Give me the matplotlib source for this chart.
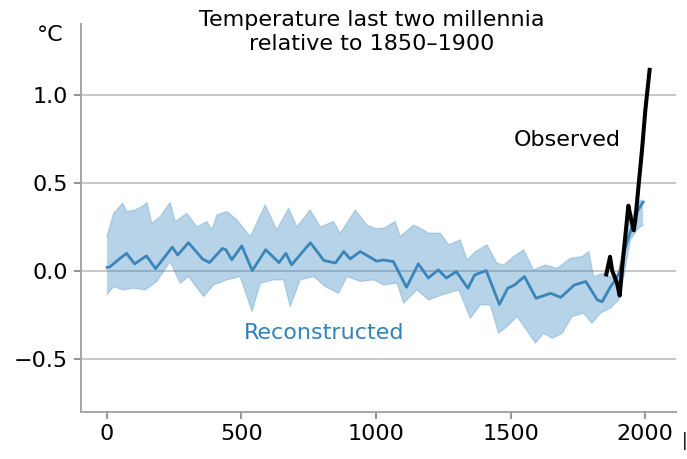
import matplotlib
matplotlib.use("Agg")
import matplotlib.pyplot as plt

# ---- data ----
rec_years = [1, 11, 40, 73, 103, 147, 181, 243, 263, 303, 355, 381, 429, 442, 464, 501,
             540, 590, 639, 665, 686, 756, 806, 849, 880, 904, 941, 975, 1002, 1027, 1064,
             1113, 1157, 1194, 1231, 1261, 1298, 1341, 1366, 1409, 1458, 1489, 1514, 1551,
             1594, 1649, 1686, 1736, 1779, 1822, 1840, 1871, 1890, 1905, 1920, 1940, 1957,
             1975, 1992]
rec_vals = [0.02, 0.023, 0.06, 0.10, 0.04, 0.085, 0.013, 0.135, 0.09, 0.16, 0.068, 0.047,
            0.127, 0.12, 0.063, 0.142, 0.002, 0.12, 0.047, 0.10, 0.034, 0.16, 0.059, 0.045,
            0.11, 0.068, 0.11, 0.08, 0.055, 0.062, 0.053, -0.093, 0.04, -0.04, 0.006, -0.04,
            -0.004, -0.098, -0.023, 0.002, -0.19, -0.098, -0.08, -0.032, -0.155, -0.127,
            -0.15, -0.08, -0.06, -0.165, -0.174, -0.089, -0.05, 0.0, 0.1, 0.2, 0.28, 0.35,
            0.39]

up_years = [0, 25, 59, 74, 105, 130, 149, 167, 198, 235, 254, 297, 334, 372, 390, 409, 446,
            483, 533, 588, 631, 675, 706, 755, 793, 842, 867, 923, 966, 1000, 1028, 1071,
            1090, 1139, 1164, 1195, 1239, 1270, 1313, 1338, 1369, 1412, 1449, 1474, 1511,
            1548, 1585, 1629, 1672, 1722, 1765, 1790, 1808, 1845, 1883, 1901, 1926, 1957,
            1982, 1992]
up_vals = [0.195, 0.327, 0.384, 0.337, 0.346, 0.365, 0.388, 0.27, 0.308, 0.388, 0.28, 0.327,
           0.25, 0.28, 0.233, 0.318, 0.337, 0.29, 0.195, 0.375, 0.233, 0.356, 0.25, 0.346,
           0.25, 0.28, 0.214, 0.346, 0.26, 0.24, 0.242, 0.28, 0.195, 0.26, 0.242, 0.214,
           0.214, 0.148, 0.176, 0.062, 0.11, 0.148, 0.044, 0.034, 0.081, 0.12, 0.006, 0.034,
           0.015, 0.072, 0.081, 0.11, -0.032, -0.013, -0.041, -0.023, 0.233, 0.327, 0.403,
           0.39]

lo_years = [0, 25, 62, 99, 142, 186, 235, 272, 303, 359, 396, 446, 495, 539, 570, 619, 656,
            681, 718, 768, 811, 861, 892, 941, 991, 1028, 1078, 1102, 1152, 1195, 1245, 1307,
            1350, 1387, 1424, 1455, 1486, 1524, 1592, 1622, 1654, 1691, 1728, 1771, 1802,
            1833, 1870, 1901, 1920, 1945, 1970, 1982, 1992]
lo_vals = [-0.136, -0.09, -0.108, -0.098, -0.108, -0.06, 0.053, -0.07, -0.032, -0.146, -0.08,
           -0.051, -0.032, -0.231, -0.07, -0.051, -0.051, -0.203, -0.051, -0.032, -0.089,
           -0.127, -0.032, -0.06, -0.051, -0.08, -0.07, -0.183, -0.108, -0.165, -0.136,
           -0.108, -0.269, -0.193, -0.193, -0.354, -0.316, -0.259, -0.41, -0.354, -0.382,
           -0.354, -0.259, -0.24, -0.297, -0.24, -0.212, -0.165, -0.032, 0.176, 0.233, 0.25,
           0.26]

obs_years = [1855, 1862, 1869, 1877, 1885, 1895, 1905, 1914, 1926, 1937, 1945, 1957, 1963,
             1976, 1988, 2000, 2016]
obs_vals = [-0.02, 0.03, 0.08, -0.0, -0.03, -0.07, -0.14, 0.02, 0.2, 0.37, 0.31, 0.23, 0.29,
            0.5, 0.69, 0.91, 1.14]

x_ticks = [0, 500, 1000, 1500, 2000]
y_ticks = [-0.5, 0.0, 0.5, 1.0]
title = "Temperature last two millennia\nrelative to 1850\u20131900"
unit = "\u00b0C"

# ---- figure ----
plt.rcParams['font.family'] = ['DejaVu Sans']
fig = plt.figure(figsize=(6.87, 4.59), dpi=100)
ax = fig.add_axes([80.5 / 687, 1 - 412 / 459, (676 - 80.5) / 687, (412 - 24) / 459])

blue = '#3182bd'
band_x = up_years + lo_years[::-1]
band_y = up_vals + lo_vals[::-1]
ax.fill(band_x, band_y, facecolor=blue, alpha=0.35, edgecolor='none', zorder=2)
ax.plot(up_years, up_vals, color=blue, alpha=0.25, lw=1.0, zorder=2)
ax.plot(lo_years, lo_vals, color=blue, alpha=0.25, lw=1.0, zorder=2)
ax.plot(rec_years, rec_vals, color='#3a85bb', lw=2.0, zorder=3, solid_joinstyle='round')
ax.plot(obs_years, obs_vals, color='black', lw=2.9, zorder=4, solid_joinstyle='round')

ax.set_xlim(-98, 2114)
ax.set_ylim(-0.8, 1.4)
ax.set_xticks(x_ticks)
ax.set_yticks(y_ticks)
ax.set_yticklabels(['\u22120.5', '0.0', '0.5', '1.0'])
ax.grid(axis='y', color='#bdbdbd', lw=1.2, zorder=1)
ax.set_axisbelow(True)
for s in ['top', 'right']:
    ax.spines[s].set_visible(False)
for s in ['left', 'bottom']:
    ax.spines[s].set_color('#a6a6a6')
    ax.spines[s].set_linewidth(1.4)
ax.tick_params(axis='both', labelsize=16, color='#808080', length=5, width=1.2, pad=4)

ax.text(1710, 0.743, "Observed", fontsize=16, color='black', ha='center', va='center')
ax.text(808, -0.352, "Reconstructed", fontsize=16, color=blue, ha='center', va='center')

fig.text(372 / 687, 1 - 10 / 459, title, fontsize=16, ha='center', va='top', linespacing=1.28)
fig.text(50 / 687, 1 - 35 / 459, unit, fontsize=16, ha='center', va='center')
fig.text(685 / 687, 1 - 441 / 459, "|", fontsize=12, ha='center', va='center')

fig.savefig("out.png", dpi=100)
